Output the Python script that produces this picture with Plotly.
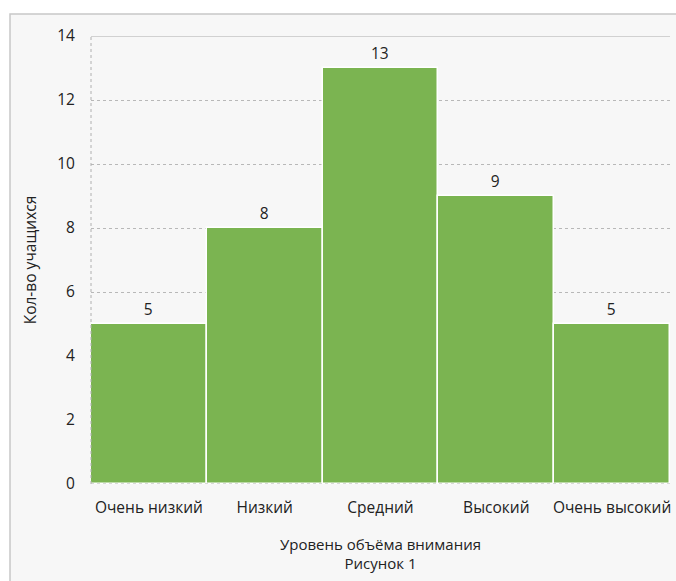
import plotly.graph_objects as go

categories = ["Очень низкий", "Низкий", "Средний", "Высокий", "Очень высокий"]
values = [5, 8, 13, 9, 5]
y_ticks = [0, 2, 4, 6, 8, 10, 12, 14]

W, H = 676, 581
L, R, T, B = 91, 6, 36, 97
pw, ph = W - L - R, H - T - B

def px_x(p):
    return (p - L) / pw

def px_y(p):
    return (H - B - p) / ph

FONT = "Open Sans, Noto Sans, sans-serif"
TXT = "#222222"

fig = go.Figure(go.Bar(
    x=categories, y=values,
    marker=dict(color="#7bb451", line=dict(color="white", width=1.5)),
    text=[str(v) for v in values], textposition="outside",
    textfont=dict(family=FONT, size=15.5, color=TXT),
    cliponaxis=False,
))

shapes = [
    dict(type="rect", xref="paper", yref="paper", layer="below",
         x0=px_x(10), x1=px_x(690), y0=px_y(600), y1=px_y(14),
         fillcolor="#f7f7f7", line=dict(color="#c8c8c8", width=1.5)),
    dict(type="line", xref="paper", yref="y", x0=0, x1=1, y0=14, y1=14,
         line=dict(color="#c4c4c4", width=1.5)),
    dict(type="line", xref="paper", yref="y", x0=0, x1=0, y0=0, y1=14,
         line=dict(color="#b0b0b0", width=1, dash="dot")),
    dict(type="line", xref="paper", yref="y", x0=0, x1=1, y0=0, y1=0,
         line=dict(color="#b0b0b0", width=1, dash="dot"), layer="above"),
]

fig.update_layout(
    width=W, height=H,
    margin=dict(l=L, r=R, t=T, b=B, pad=0),
    paper_bgcolor="white", plot_bgcolor="rgba(0,0,0,0)",
    bargap=0, showlegend=False,
    font=dict(family=FONT, size=15, color=TXT),
    shapes=shapes,
    xaxis=dict(
        showgrid=False, showline=False, zeroline=False,
        ticks="outside", ticklen=9, tickcolor="rgba(0,0,0,0)",
        tickfont=dict(family=FONT, size=15.5, color=TXT),
        title=dict(text="Уровень объёма внимания<br>Рисунок 1",
                   font=dict(family=FONT, size=15, color=TXT), standoff=22),
    ),
    yaxis=dict(
        range=[0, 14], tickvals=y_ticks,
        showgrid=True, gridcolor="#b8b8b8", griddash="dot", gridwidth=1,
        zeroline=False, showline=False,
        ticks="outside", ticklen=12, tickcolor="rgba(0,0,0,0)",
        tickfont=dict(family=FONT, size=15.5, color=TXT),
        title=dict(text="Кол-во учащихся",
                   font=dict(family=FONT, size=15.5, color=TXT), standoff=16),
    ),
)

fig.write_html("out.html")
